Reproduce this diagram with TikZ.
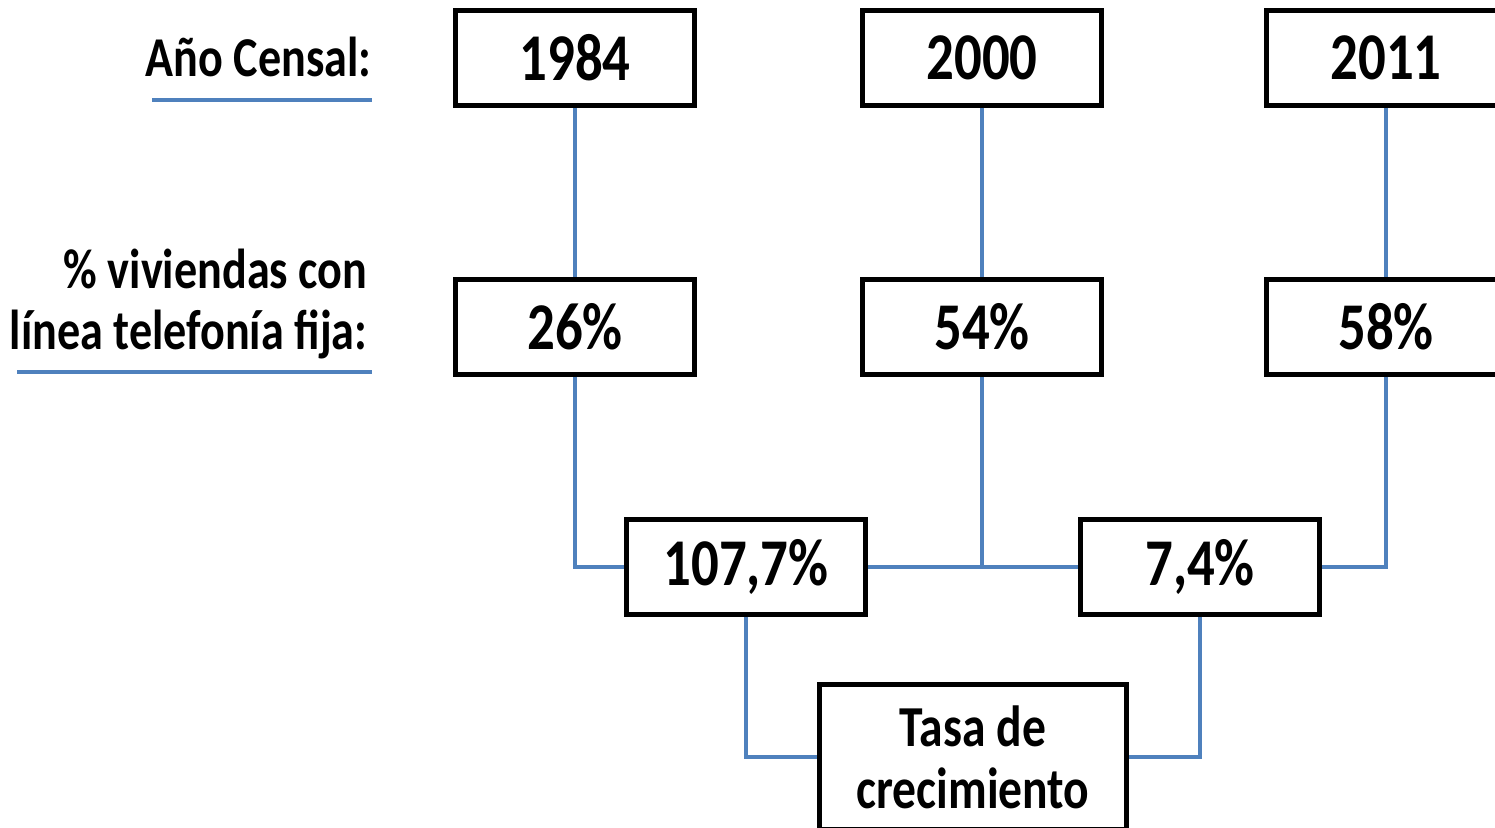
\documentclass[tikz,border=0pt]{standalone}
\usepackage{fontspec}
\setmainfont{Carlito}[FakeStretch=0.82]
\usepackage{xcolor}
\usetikzlibrary{positioning,calc}
\definecolor{linkblue}{HTML}{4F81BD}

\begin{document}
\begin{tikzpicture}[x=0.01cm, y=-0.01cm,
    box/.style={rectangle, draw=black, line width=1.3pt, fill=white, minimum width=2.39cm, minimum height=0.95cm, text centered, font=\fontsize{19}{21}\selectfont\bfseries},
    lbl/.style={font=\fontsize{16}{17.5}\selectfont\bfseries, align=right, inner sep=0pt},
    link/.style={draw=linkblue, line width=1.1pt}
]
    \useasboundingbox (0,0) rectangle (1495,827);
    \clip (0,0) rectangle (1495,827);

    % Row labels
    \node[lbl, anchor=east] (censo) at (372,57) {Año Censal:};
    \node[lbl, anchor=east] (pct) at (368,304) {\% viviendas con\\línea telefonía fija:};
    \draw[link, line width=1.3pt] (152,100) -- (372,100);
    \draw[link, line width=1.3pt] (17,372) -- (372,372);

    % Census years
    \node[box] (y1984) at (575,58) {1984};
    \node[box] (y2000) at (982,58) {2000};
    \node[box] (y2011) at (1386,58) {2011};

    % Households with landline
    \node[box] (p1984) at (575,327) {26\%};
    \node[box] (p2000) at (982,327) {54\%};
    \node[box] (p2011) at (1386,327) {58\%};

    % Growth
    \node[box] (g1) at (746,567) {107,7\%};
    \node[box] (g2) at (1200,567) {7,4\%};
    \node[box, minimum width=3.07cm, minimum height=1.45cm, align=center, font=\fontsize{16.5}{17.6}\selectfont\bfseries] (tasa) at (973,757) {Tasa de\\crecimiento};

    % Links
    \draw[link] (y1984) -- (p1984);
    \draw[link] (y2000) -- (p2000);
    \draw[link] (y2011) -- (p2011);
    \draw[link] (p1984.south) |- (g1.west);
    \draw[link] (g1.east) -- (g2.west);
    \draw[link] (p2000.south) -- (p2000.south |- g1.east);
    \draw[link] (p2011.south) |- (g2.east);
    \draw[link] (g1.south) |- (tasa.west);
    \draw[link] (g2.south) |- (tasa.east);
\end{tikzpicture}
\end{document}
